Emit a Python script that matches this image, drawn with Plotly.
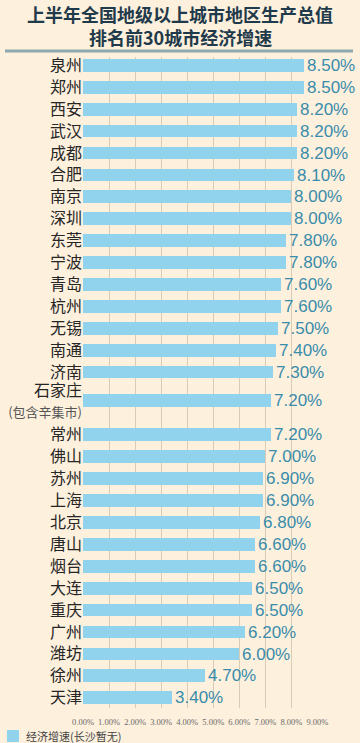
import plotly.graph_objects as go

cities = ["泉州", "郑州", "西安", "武汉", "成都", "合肥", "南京", "深圳", "东莞", "宁波",
          "青岛", "杭州", "无锡", "南通", "济南", "石家庄", "常州", "佛山", "苏州", "上海",
          "北京", "唐山", "烟台", "大连", "重庆", "广州", "潍坊", "徐州", "天津"]
growth = [8.5, 8.5, 8.2, 8.2, 8.2, 8.1, 8.0, 8.0, 7.8, 7.8,
          7.6, 7.6, 7.5, 7.4, 7.3, 7.2, 7.2, 7.0, 6.9, 6.9,
          6.8, 6.6, 6.6, 6.5, 6.5, 6.2, 6.0, 4.7, 3.4]
notes = {"石家庄": "(包含辛集市)"}
x_ticks = [0, 1, 2, 3, 4, 5, 6, 7, 8, 9]
series_name = "经济增速(长沙暂无)"
title_lines = ["上半年全国地级以上城市地区生产总值", "排名前30城市经济增速"]

# row positions: the two-line label row gets extra room
ypos = []
cur = 0.0
for c in cities:
    if c in notes:
        cur += 0.31
        ypos.append(cur)
        cur += 0.55
    else:
        ypos.append(cur)
    cur += 1.0

ticktext = []
for c in cities:
    if c in notes:
        ticktext.append(c + "<br><span style='font-size:13px;color:#555555'>" + notes[c] + "</span>")
    else:
        ticktext.append(c)

W, H = 360, 743
ML, MR, MT, MB = 83, 42, 57, 35
PW, PH = W - ML - MR, H - MT - MB

BG = "#fdf0dd"
BAR = "#91d3ec"
fig = go.Figure()
fig.add_trace(go.Bar(
    x=growth, y=ypos, orientation="h",
    marker=dict(color=BAR, line=dict(width=0)),
    width=0.58,
    text=[f"{v:.2f}%" for v in growth],
    textposition="outside",
    constraintext="none",
    textfont=dict(family="Liberation Sans", size=17, color="#3a8cab"),
    cliponaxis=False,
    name=series_name,
    showlegend=False,
))


def px_x(p):
    return (p - ML) / PW


def px_y(p):
    return 1 - (p - MT) / PH


annotations = [
    dict(text="<b>" + title_lines[0] + "</b>", xref="paper", yref="paper",
         x=px_x(180), y=px_y(14), xanchor="center", yanchor="middle", showarrow=False,
         font=dict(family="Noto Sans CJK SC", size=18, color="#1f3a4a")),
    dict(text="<b>" + title_lines[1] + "</b>", xref="paper", yref="paper",
         x=px_x(180), y=px_y(37), xanchor="center", yanchor="middle", showarrow=False,
         font=dict(family="Noto Sans CJK SC", size=18, color="#1f3a4a")),
    dict(text=series_name, xref="paper", yref="paper",
         x=px_x(24), y=px_y(736), xanchor="left", yanchor="middle", showarrow=False,
         font=dict(family="Noto Sans CJK SC", size=11, color="#444444")),
]

shapes = [
    dict(type="line", xref="paper", yref="paper",
         x0=px_x(5), x1=px_x(353), y0=px_y(51), y1=px_y(51),
         line=dict(color="#8fa8b0", width=3)),
    dict(type="rect", xref="paper", yref="paper",
         x0=px_x(7), x1=px_x(19), y0=px_y(730), y1=px_y(742),
         fillcolor=BAR, line=dict(width=0)),
]

fig.update_layout(
    width=W, height=H,
    paper_bgcolor=BG, plot_bgcolor=BG,
    margin=dict(l=ML, r=MR, t=MT, b=MB, autoexpand=False),
    bargap=0,
    showlegend=False,
    font=dict(family="Noto Sans CJK SC"),
    xaxis=dict(
        range=[0, 9.02], tickvals=x_ticks,
        ticktext=[f"{t:.2f}%" for t in x_ticks],
        tickangle=0,
        ticklabelstandoff=7,
        tickfont=dict(family="Liberation Sans Narrow", size=8.5, color="#6a6a6a"),
        showgrid=True, gridcolor="#d9cbb4", gridwidth=1,
        zeroline=False, showline=False, ticks="",
        automargin=False, fixedrange=True,
    ),
    yaxis=dict(
        range=[ypos[-1] + 0.47, -0.38],
        tickvals=ypos, ticktext=ticktext,
        tickfont=dict(family="Noto Sans CJK SC", size=16, color="#262626"),
        showgrid=False, zeroline=False, ticks="", showline=False,
        automargin=False, fixedrange=True,
    ),
    annotations=annotations,
    shapes=shapes,
)

fig.write_html("out.html")
